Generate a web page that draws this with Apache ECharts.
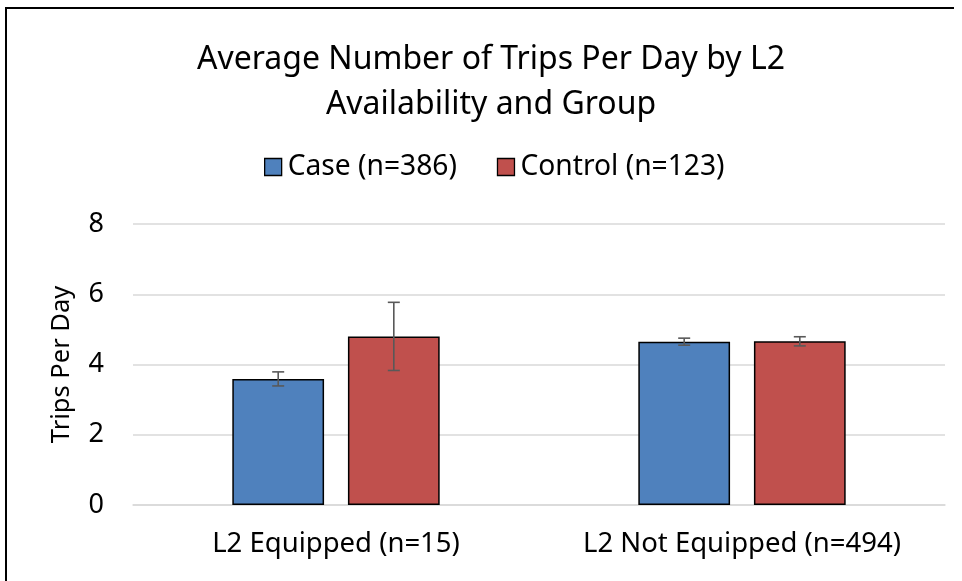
<!DOCTYPE html>
<html>
<head>
<meta charset="utf-8">
<script src="https://cdn.jsdelivr.net/npm/echarts@6/dist/echarts.min.js"></script>
<style>
  html, body { margin: 0; padding: 0; background: #fff; }
  #chart { width: 962px; height: 581px; }
</style>
</head>
<body>
<div id="chart"></div>
<script>
const categories = ['L2 Equipped (n=15)', 'L2 Not Equipped (n=494)'];
const seriesNames = ['Case (n=386)', 'Control (n=123)'];
const caseValues = [3.59, 4.65];
const controlValues = [4.80, 4.66];
const caseErrors = [0.20, 0.10];
const controlErrors = [0.97, 0.13];
const yTicks = [0, 2, 4, 6, 8];

const colors = ['#4F81BD', '#C0504D'];
const fontFamily = '"Noto Sans", "DejaVu Sans", sans-serif';

// bar geometry as fractions of the category band
const barFrac = 0.226;
const gapFrac = 0.26;

const errorSeries = (values, errors, side) => ({
  type: 'custom',
  silent: true,
  z: 10,
  data: values.map((v, i) => [i, v - errors[i], v + errors[i]]),
  renderItem: (params, api) => {
    const band = api.size([1, 0])[0];
    const shift = side * band * barFrac * (1 + gapFrac) / 2;
    const lo = api.coord([api.value(0), api.value(1)]);
    const hi = api.coord([api.value(0), api.value(2)]);
    const x = lo[0] + shift;
    const cap = 6;
    const style = { stroke: '#595959', lineWidth: 1.6 };
    return {
      type: 'group',
      children: [
        { type: 'line', shape: { x1: x, y1: lo[1], x2: x, y2: hi[1] }, style },
        { type: 'line', shape: { x1: x - cap, y1: lo[1], x2: x + cap, y2: lo[1] }, style },
        { type: 'line', shape: { x1: x - cap, y1: hi[1], x2: x + cap, y2: hi[1] }, style }
      ]
    };
  }
});

const chart = echarts.init(document.getElementById('chart'));
chart.setOption({
  backgroundColor: '#fff',
  animation: false,
  title: {
    text: 'Average Number of Trips Per Day by L2\nAvailability and Group',
    left: 486,
    textAlign: 'center',
    top: 32,
    textStyle: { fontFamily, fontSize: 32, fontWeight: 'normal', color: '#000', lineHeight: 45 }
  },
  legend: {
    data: seriesNames,
    top: 148,
    left: 259,
    padding: 5,
    itemWidth: 17,
    itemHeight: 17,
    itemGap: 40,
    icon: 'rect',
    itemStyle: { borderColor: '#000', borderWidth: 1.3 },
    textStyle: { fontFamily, fontSize: 28.2, color: '#000', padding: [0, 0, 0, 1] }
  },
  grid: { left: 133, right: 17, top: 224, bottom: 76 },
  xAxis: {
    type: 'category',
    data: categories,
    axisLine: { show: true, lineStyle: { color: '#d9d9d9', width: 1.5 } },
    axisTick: { show: false },
    axisLabel: { fontFamily, fontSize: 27.5, color: '#000', margin: 25, interval: 0, hideOverlap: false }
  },
  yAxis: {
    type: 'value',
    min: yTicks[0],
    max: yTicks[yTicks.length - 1],
    interval: 2,
    name: 'Trips Per Day',
    nameLocation: 'middle',
    nameGap: 58,
    nameTextStyle: { fontFamily, fontSize: 25.5, color: '#000' },
    axisLine: { show: false },
    axisTick: { show: false },
    axisLabel: { fontFamily, fontSize: 27, color: '#000', margin: 29 },
    splitLine: { lineStyle: { color: '#d9d9d9', width: 1.5 } }
  },
  series: [
    {
      name: seriesNames[0],
      type: 'bar',
      data: caseValues,
      barWidth: (barFrac * 100) + '%',
      barGap: (gapFrac * 100) + '%',
      itemStyle: { color: colors[0], borderColor: '#000', borderWidth: 1.5 }
    },
    {
      name: seriesNames[1],
      type: 'bar',
      data: controlValues,
      barWidth: (barFrac * 100) + '%',
      itemStyle: { color: colors[1], borderColor: '#000', borderWidth: 1.5 }
    },
    errorSeries(caseValues, caseErrors, -1),
    errorSeries(controlValues, controlErrors, 1)
  ],
  graphic: [
    { type: 'polyline', silent: true, shape: { points: [[6, 600], [6, 8], [954, 8]] }, style: { stroke: '#000', lineWidth: 2, fill: null } }
  ]
});
</script>
</body>
</html>
